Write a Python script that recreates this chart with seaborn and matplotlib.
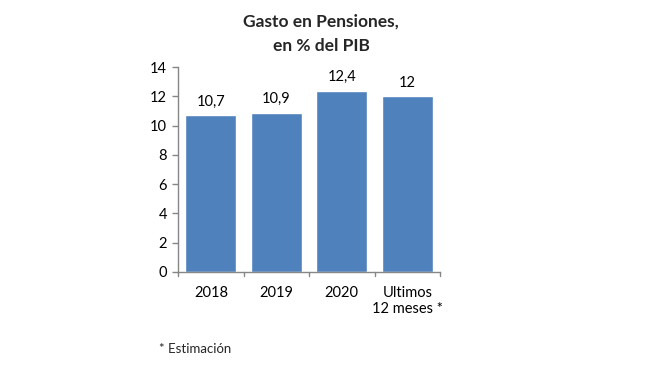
import matplotlib
matplotlib.use("Agg")
import matplotlib.pyplot as plt
import seaborn as sns
import pandas as pd

categories = ["2018", "2019", "2020", "Ultimos\n12 meses *"]
values = [10.7, 10.9, 12.4, 12.0]
value_labels = ["10,7", "10,9", "12,4", "12"]
yticks = [0, 2, 4, 6, 8, 10, 12, 14]

sns.set_theme(style="white")
plt.rcParams['font.family'] = ['Lato', 'DejaVu Sans']

df = pd.DataFrame({"cat": categories, "val": values})

fig = plt.figure(figsize=(6.5, 3.65), dpi=100)
ax = fig.add_axes([0.274, 0.255, 0.403, 0.561])
sns.barplot(data=df, x="cat", y="val", color="#4F81BD", saturation=1, width=0.78, ax=ax)

ax.set_ylim(0, 14)
ax.set_xlim(-0.5, 3.5)
ax.set_yticks(yticks)
ax.set_yticklabels([str(t) for t in yticks], fontsize=10.5, color="#000000")
ax.set_xlabel("")
ax.set_ylabel("")
ax.tick_params(axis="x", length=0, labelsize=10.5, pad=10, colors="#000000")
ax.tick_params(axis="y", length=4, width=1, color="#868686", direction="out", pad=4, left=True)

for s in ["top", "right"]:
    ax.spines[s].set_visible(False)
for s in ["left", "bottom"]:
    ax.spines[s].set_visible(True)
    ax.spines[s].set_color("#868686")
    ax.spines[s].set_linewidth(1)

# category boundary ticks on x axis
for b in [-0.5, 0.5, 1.5, 2.5, 3.5]:
    ax.plot([b, b], [0, -0.25], color="#868686", lw=1, clip_on=False)

for i, (v, lab) in enumerate(zip(values, value_labels)):
    ax.text(i, v + 0.45, lab, ha="center", va="bottom", fontsize=10.5, color="#000000")

fig.text(0.494, 1 - 22 / 365, "Gasto en Pensiones,", ha="center", va="center",
         fontsize=12.5, fontweight="bold")
fig.text(0.494, 1 - 46 / 365, "en % del PIB", ha="center", va="center",
         fontsize=12.5, fontweight="bold")
fig.text(0.245, 0.045, "* Estimación", ha="left", va="center", fontsize=9.5)

fig.savefig("out.png", dpi=100, facecolor="white")
